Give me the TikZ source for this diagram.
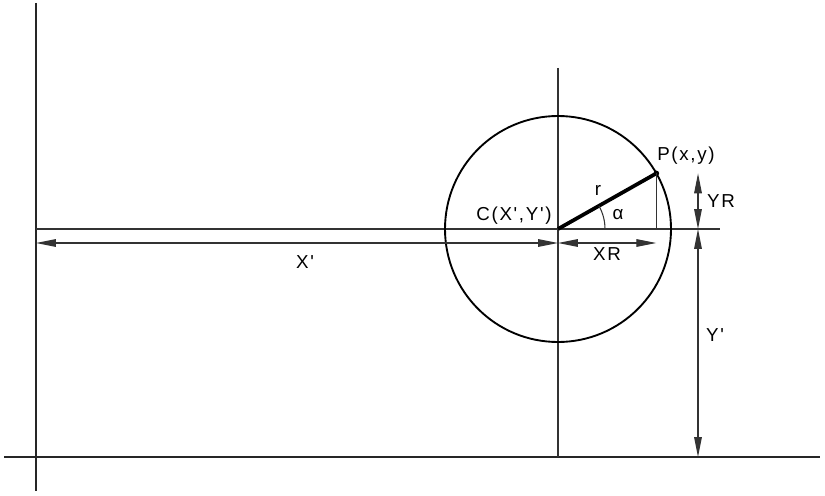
\documentclass[tikz,border=0pt]{standalone}
\usepackage{fontspec}
\setmainfont{Liberation Sans}
\newfontfamily\lettering[LetterSpace=9]{Liberation Sans}
\usepackage{tikz}
\usetikzlibrary{arrows.meta, calc}

\begin{document}
\begin{tikzpicture}[
  x=0.03cm, y=0.03cm,
  axis/.style={line width=1.7pt, color=black!85},
  thin line/.style={line width=0.9pt, color=black!80},
  dim/.style={line width=0.9pt, color=black!80,
              {Triangle[length=17pt,width=6.5pt]}-{Triangle[length=17pt,width=6.5pt]}},
  lbl/.style={font=\lettering\fontsize{16}{19}\selectfont, inner sep=0pt}
]
  \useasboundingbox (0,0) rectangle (825,495);

  % --- Points ---
  \coordinate (ytop) at (36,492);
  \coordinate (ybot) at (36,4);
  \coordinate (xleft) at (4,38);
  \coordinate (xright) at (820,38);
  \coordinate (C) at (558,266);
  \coordinate (P) at ($(C)+(29.5:113)$);
  \coordinate (F) at (P |- C);
  \coordinate (ctop) at (558,427);
  \coordinate (cbot) at (558,38);
  \coordinate (hleft) at (36,266);
  \coordinate (hright) at (720,266);

  % --- Axes and guide lines ---
  \draw[axis] (ytop) -- (ybot);
  \draw[axis] (xleft) -- (xright);
  \draw[thin line] (hleft) -- (hright);
  \draw[thin line] (ctop) -- (cbot);
  \draw[line width=1.6pt] (C) circle[radius=113];

  % --- Radius and angle ---
  \draw[line width=3.2pt] (C) -- (P);
  \fill (P) circle[radius=2.8];
  \draw[thin line] (P) -- (F);
  \draw[thin line] ($(C)+(47,0)$) arc[start angle=0, end angle=29.5, radius=47];

  % --- Dimensions ---
  \draw[dim] (36,252) -- (558,252);
  \draw[dim] (558,252) -- (F |- 0,252);
  \draw[dim] (698,266) -- (698,38);
  \draw[dim] (P -| 698,0) -- (698,266);

  % --- Labels ---
  \node[lbl] (lC) at (514,279) {C(X',Y')};
  \node[lbl] (lP) at (686,339) {P(x,y)};
  \node[lbl] (lr) at (598,305) {r};
  \node[lbl] (la) at (618,280) {α};
  \node[lbl] (lX) at (305,233) {X'};
  \node[lbl] (lXR) at (607,241) {XR};
  \node[lbl] (lYR) at (721,294) {YR};
  \node[lbl] (lY) at (715,160) {Y'};

\end{tikzpicture}
\end{document}
